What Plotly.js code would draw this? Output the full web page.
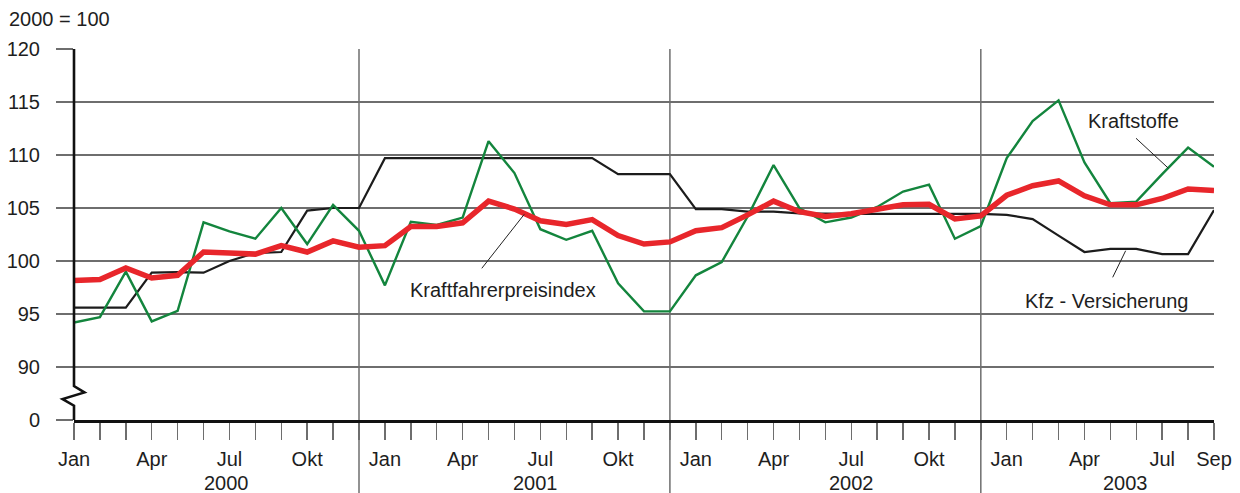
<!DOCTYPE html>
<html>
<head>
<meta charset="utf-8">
<script src="https://cdn.plot.ly/plotly-3.0.1.min.js"></script>
<style>html,body{margin:0;padding:0;background:#fff;}#chart{width:1240px;height:493px;}</style>
</head>
<body>
<div id="chart"></div>
<script>
// Months Jan 2000 .. Sep 2003 (index 0..44)
const monthNames = ['Jan','Feb','Mär','Apr','Mai','Jun','Jul','Aug','Sep','Okt','Nov','Dez'];
const years = ['2000','2001','2002','2003'];
const monthIndex = Array.from({length: 45}, (_, i) => i);

// Kfz - Versicherung
const kfzVersicherung = [
  95.6, 95.6, 95.6, 98.9, 98.95, 98.9, 100.0, 100.75, 100.85, 104.75, 105.0, 105.0,
  109.7, 109.7, 109.7, 109.7, 109.7, 109.7, 109.7, 109.7, 109.7, 108.2, 108.2, 108.2,
  104.9, 104.9, 104.65, 104.65, 104.5, 104.45, 104.45, 104.45, 104.45, 104.45, 104.45, 104.45,
  104.35, 103.95, 102.4, 100.85, 101.15, 101.15, 100.65, 100.65, 104.8
];
// Kraftstoffe
const kraftstoffe = [
  94.2, 94.7, 99.0, 94.3, 95.3, 103.65, 102.8, 102.1, 105.0, 101.6, 105.3, 102.85,
  97.7, 103.7, 103.4, 104.1, 111.3, 108.3, 103.0, 102.0, 102.85, 97.9, 95.25, 95.25,
  98.65, 99.9, 104.2, 109.05, 104.98, 103.65, 104.1, 105.1, 106.55, 107.2, 102.1, 103.3,
  109.7, 113.2, 115.15, 109.3, 105.45, 105.6, 108.2, 110.7, 108.9
];
// Kraftfahrerpreisindex
const kraftfahrerpreisindex = [
  98.15, 98.25, 99.35, 98.4, 98.65, 100.85, 100.75, 100.65, 101.45, 100.85, 101.9, 101.3,
  101.45, 103.25, 103.25, 103.6, 105.65, 104.9, 103.8, 103.45, 103.9, 102.4, 101.6, 101.8,
  102.85, 103.15, 104.35, 105.65, 104.65, 104.2, 104.45, 104.9, 105.3, 105.35, 103.97, 104.25,
  106.2, 107.1, 107.55, 106.15, 105.3, 105.3, 105.9, 106.8, 106.65
];

const yTickVals = [85, 90, 95, 100, 105, 110, 115, 120];
const yTickText = ['0', '90', '95', '100', '105', '110', '115', '120'];
const xTickText = monthIndex.map(i => {
  const m = monthNames[i % 12];
  if (i === 44) return m;
  return (['Jan','Apr','Jul','Okt'].includes(m)) ? m : '';
});
const yearLabelPos = [5.9, 17.8, 30.0, 40.6];
const separatorPos = [11, 23, 35];

const FONT = 'Liberation Sans, Arial, Helvetica, sans-serif';
const GRID = '#6e6e6e';
const TXT = '#1e1e1e';
const FS = 20;

const traces = [
  {x: monthIndex, y: kfzVersicherung, type: 'scatter', mode: 'lines', name: 'Kfz - Versicherung',
   line: {color: '#1c1c1c', width: 2.2}, hoverinfo: 'skip'},
  {x: monthIndex, y: kraftstoffe, type: 'scatter', mode: 'lines', name: 'Kraftstoffe',
   line: {color: '#13853d', width: 2.4}, hoverinfo: 'skip'},
  {x: monthIndex, y: kraftfahrerpreisindex, type: 'scatter', mode: 'lines', name: 'Kraftfahrerpreisindex',
   line: {color: '#e8262b', width: 5.5}, hoverinfo: 'skip'}
];

// plot geometry helpers (axis frame only)
const X0 = 74, XW = 1140, Y0 = 85, YSPAN = 35;
const px = d => d / XW;                    // pixel offset -> paper x
const py = v => (v - Y0) / YSPAN;          // y value -> paper y

const shapes = [];
// year separators
separatorPos.forEach(p => shapes.push({type: 'line', xref: 'x', yref: 'paper', x0: p, x1: p, y0: -0.2, y1: 1,
  line: {color: GRID, width: 1.5}, layer: 'below'}));
// y axis with break (zigzag)
const axPath = 'M 0,' + py(120) + ' L 0,' + py(88.2) + ' L ' + px(10.4) + ',' + py(87.6) +
  ' L ' + px(-11.4) + ',' + py(86.98) + ' L 0,' + py(86.35) + ' L 0,' + py(85);
shapes.push({type: 'path', xref: 'paper', yref: 'paper', path: axPath, line: {color: '#111', width: 2.6}, layer: 'above'});
// leader lines
shapes.push({type: 'line', xref: 'x', yref: 'y', x0: 15.74, y0: 99.31, x1: 17.38, y1: 104.41, line: {color: '#222', width: 1}});
shapes.push({type: 'line', xref: 'x', yref: 'y', x0: 40.99, y0: 111.58, x1: 42.24, y1: 108.75, line: {color: '#222', width: 1}});
shapes.push({type: 'line', xref: 'x', yref: 'y', x0: 40.09, y0: 98.46, x1: 40.59, y1: 100.97, line: {color: '#222', width: 1}});

const annotations = [
  {text: 'Kraftfahrerpreisindex', xref: 'x', yref: 'y', x: 16.55, y: 97.3, showarrow: false, font: {family: FONT, size: FS, color: TXT}},
  {text: 'Kraftstoffe', xref: 'x', yref: 'y', x: 40.9, y: 113.2, showarrow: false, font: {family: FONT, size: FS, color: TXT}},
  {text: 'Kfz - Versicherung', xref: 'x', yref: 'y', x: 39.86, y: 96.2, showarrow: false, font: {family: FONT, size: FS, color: TXT}},
  {text: '2000 = 100', xref: 'paper', yref: 'paper', x: px(-67), y: 1.081, xanchor: 'left', yanchor: 'middle', showarrow: false, font: {family: FONT, size: FS, color: TXT}}
];
years.forEach((yr, i) => annotations.push({text: yr, xref: 'x', yref: 'paper', x: yearLabelPos[i], y: -0.17,
  yanchor: 'middle', showarrow: false, font: {family: FONT, size: FS, color: TXT}}));

const layout = {
  width: 1240, height: 493,
  margin: {l: 74, r: 26, t: 49, b: 73},
  paper_bgcolor: '#fff', plot_bgcolor: '#fff',
  showlegend: false,
  font: {family: FONT, size: FS, color: TXT},
  xaxis: {
    range: [0, 44], tickvals: monthIndex, ticktext: xTickText,
    ticks: 'outside', ticklen: 17, tickwidth: 1.5, tickcolor: GRID,
    showgrid: false, zeroline: false, showline: true, linecolor: '#111', linewidth: 2.6,
    tickangle: 0, ticklabelstandoff: 2, tickfont: {family: FONT, size: FS, color: TXT}
  },
  yaxis: {
    range: [85, 120], tickvals: yTickVals, ticktext: yTickText,
    ticks: 'outside', ticklen: 17, tickwidth: 1.2, tickcolor: GRID,
    showgrid: true, gridcolor: GRID, gridwidth: 1.2,
    zeroline: false, showline: false, ticklabelstandoff: 12,
    tickfont: {family: FONT, size: FS, color: TXT}
  },
  shapes: shapes,
  annotations: annotations
};

Plotly.newPlot('chart', traces, layout, {staticPlot: true, displayModeBar: false});
</script>
</body>
</html>
